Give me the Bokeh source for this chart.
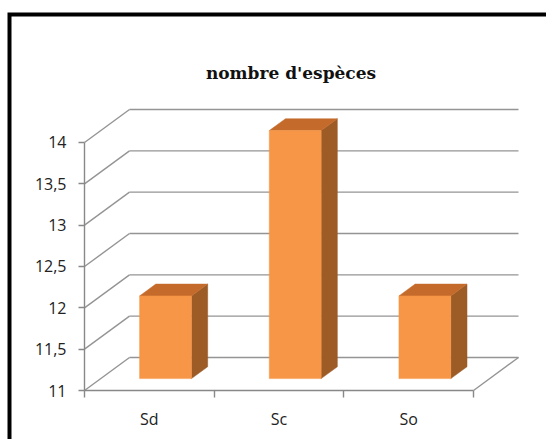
from bokeh.plotting import figure
from bokeh.models import (LinearAxis, FixedTicker, CustomJSTickFormatter,
                          Range1d, Label)
from bokeh.embed import file_html
from bokeh.resources import INLINE

# --- data -----------------------------------------------------------------
categories = ["Sd", "Sc", "So"]
especes = [12, 14, 12]
y_ticks = [11, 11.5, 12, 12.5, 13, 13.5, 14]
title_text = "nombre d'espèces"

# --- layout of the pseudo-3D box ------------------------------------------
W, H = 546, 439
SX = 129.67          # pixels per category on the front plane
SY = 82.67           # pixels per unit of value
X0_PX, Y0_PX = 84, 390   # where (0, 11) sits on the canvas
BASE = y_ticks[0]
TOP = y_ticks[-1]
DX = 45 / SX         # depth offset of the back wall (x, data units)
DY = 33 / SY         # depth offset of the back wall (y, data units)
D_FRONT, D_BACK = 0.36, 0.72   # bar depth slice
HALF = 0.2           # half bar width

def px_x(px):
    return (px - X0_PX) / SX

def px_y(py):
    return BASE + (Y0_PX - py) / SY

p = figure(width=W, height=H, output_backend="svg", toolbar_location=None,
           x_axis_type=None, y_axis_type=None,
           x_range=Range1d(px_x(0), px_x(W)),
           y_range=Range1d(px_y(H), px_y(0)),
           min_border=0, outline_line_color=None,
           background_fill_color="white", border_fill_color="white")
p.grid.visible = False

# --- frame around the chart area ------------------------------------------
p.line([px_x(9), px_x(9), px_x(W + 10)],
       [px_y(H + 10), px_y(14), px_y(14)],
       line_color="black", line_width=4, line_join="miter")

# --- back wall gridlines with their diagonals to the front axis -----------
n = len(categories)
gx0, gx1, dx0, dx1, gy0, gy1, dy0, dy1 = [], [], [], [], [], [], [], []
for t in y_ticks:
    gx0.append(DX); gx1.append(n + DX); gy0.append(t + DY); gy1.append(t + DY)
    dx0.append(0); dx1.append(DX); dy0.append(t); dy1.append(t + DY)
grid_color = "#949494"
p.segment(gx0, gy0, gx1, gy1, line_color=grid_color, line_width=1.4)
p.segment(dx0, dy0, dx1, dy1, line_color=grid_color, line_width=1.4)
# right edge of the floor
p.segment([n], [BASE], [n + DX], [BASE + DY], line_color=grid_color, line_width=1.4)

# --- 3D columns -------------------------------------------------------------
fl, fr, fb, ft = [], [], [], []
top_xs, top_ys, side_xs, side_ys = [], [], [], []
for i, v in enumerate(especes):
    c = i + 0.5
    l0 = c - HALF + D_FRONT * DX
    r0 = c + HALF + D_FRONT * DX
    b0 = BASE + D_FRONT * DY
    t0 = v + D_FRONT * DY
    ox = (D_BACK - D_FRONT) * DX
    oy = (D_BACK - D_FRONT) * DY
    fl.append(l0); fr.append(r0); fb.append(b0); ft.append(t0)
    top_xs.append([l0, r0, r0 + ox, l0 + ox])
    top_ys.append([t0, t0, t0 + oy, t0 + oy])
    side_xs.append([r0, r0 + ox, r0 + ox, r0])
    side_ys.append([t0, t0 + oy, b0 + oy, b0])

p.patches(side_xs, side_ys, fill_color="#9d5b26", line_color="#9d5b26", line_width=0.5)
p.patches(top_xs, top_ys, fill_color="#c46b2b", line_color="#c46b2b", line_width=0.5)
p.quad(left=fl, right=fr, bottom=fb, top=ft,
       fill_color="#f79646", line_color="#f79646", line_width=0.5)

# --- axes -------------------------------------------------------------------
axis_color = "#888888"
label_font = "Open Sans"
label_color = "#222222"

yaxis = LinearAxis(fixed_location=0, bounds=(BASE, TOP),
                   ticker=FixedTicker(ticks=y_ticks),
                   formatter=CustomJSTickFormatter(code="""
                       return Number.isInteger(tick) ? tick.toString()
                                                      : tick.toString().replace('.', ',');
                   """),
                   axis_line_color=axis_color, axis_line_width=1.4,
                   major_tick_line_color=axis_color, major_tick_line_width=1.4,
                   major_tick_out=6, major_tick_in=0,
                   minor_tick_line_color=None,
                   major_label_standoff=12,
                   major_label_text_font=label_font,
                   major_label_text_font_size="16px",
                   major_label_text_color=label_color)
p.add_layout(yaxis, "left")

xaxis = LinearAxis(fixed_location=BASE, bounds=(0, n),
                   ticker=FixedTicker(ticks=[i + 0.5 for i in range(n)],
                                      minor_ticks=list(range(n + 1))),
                   formatter=CustomJSTickFormatter(args=dict(labels=categories),
                                                   code="return labels[Math.floor(tick)];"),
                   axis_line_color=axis_color, axis_line_width=1.4,
                   major_tick_line_color=None,
                   minor_tick_line_color=axis_color, minor_tick_line_width=1.4,
                   minor_tick_out=7, minor_tick_in=0,
                   major_label_standoff=10,
                   major_label_text_font=label_font,
                   major_label_text_font_size="16px",
                   major_label_text_color=label_color)
p.add_layout(xaxis, "below")

# --- title -------------------------------------------------------------------
p.add_layout(Label(x=px_x(290.5), y=px_y(72), text=title_text,
                   text_align="center", text_baseline="alphabetic",
                   text_font="DejaVu Serif", text_font_style="bold",
                   text_font_size="17px", text_color="#111111"))

open("out.html", "w").write(file_html(p, INLINE))
